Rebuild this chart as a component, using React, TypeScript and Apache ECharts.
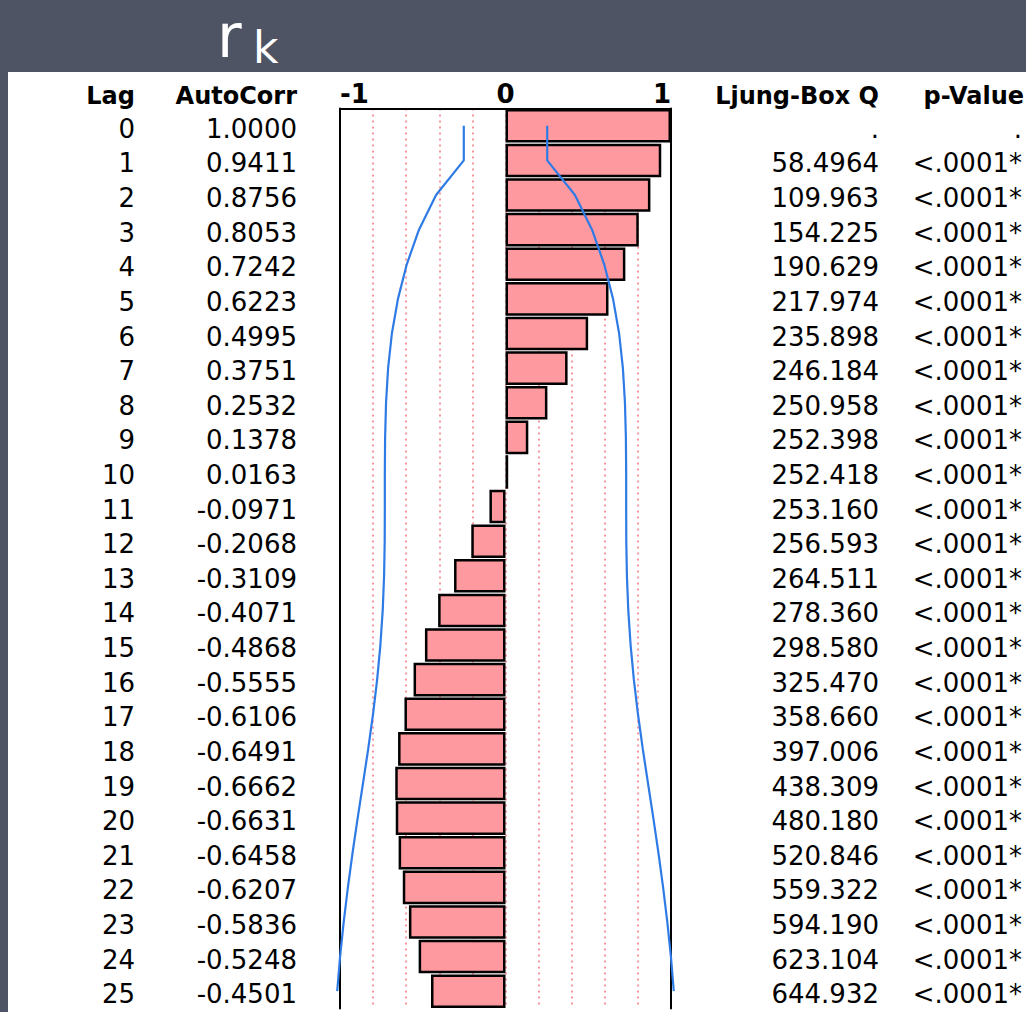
import React, { useEffect, useRef } from 'react';
import * as echarts from 'echarts';

const lags = [0, 1, 2, 3, 4, 5, 6, 7, 8, 9, 10, 11, 12, 13, 14, 15, 16, 17, 18, 19, 20, 21, 22, 23, 24, 25];
const autoCorr = [1.0, 0.9411, 0.8756, 0.8053, 0.7242, 0.6223, 0.4995, 0.3751, 0.2532, 0.1378, 0.0163, -0.0971, -0.2068, -0.3109, -0.4071, -0.4868, -0.5555, -0.6106, -0.6491, -0.6662, -0.6631, -0.6458, -0.6207, -0.5836, -0.5248, -0.4501];
const ljungBoxQ = ['.', '58.4964', '109.963', '154.225', '190.629', '217.974', '235.898', '246.184', '250.958', '252.398', '252.418', '253.160', '256.593', '264.511', '278.360', '298.580', '325.470', '358.660', '397.006', '438.309', '480.180', '520.846', '559.322', '594.190', '623.104', '644.932'];
const pValues = ['.', '<.0001*', '<.0001*', '<.0001*', '<.0001*', '<.0001*', '<.0001*', '<.0001*', '<.0001*', '<.0001*', '<.0001*', '<.0001*', '<.0001*', '<.0001*', '<.0001*', '<.0001*', '<.0001*', '<.0001*', '<.0001*', '<.0001*', '<.0001*', '<.0001*', '<.0001*', '<.0001*', '<.0001*', '<.0001*'];
// 2-standard-error limits
const confLimit = [0.252, 0.252, 0.4195, 0.5228, 0.5964, 0.6498, 0.6866, 0.7093, 0.7218, 0.7274, 0.7291, 0.7291, 0.7299, 0.7336, 0.7419, 0.756, 0.7756, 0.8005, 0.8295, 0.8612, 0.8933, 0.924, 0.9523, 0.9776, 0.9995, 1.0168];
const headers = ['Lag', 'AutoCorr', 'Ljung-Box Q', 'p-Value'];
const axisTicks = [-1, 0, 1];

export default function App() {
  const ref = useRef<HTMLDivElement>(null);
  useEffect(() => {
    const chart = echarts.init(ref.current as HTMLDivElement, null, { renderer: 'svg' });
    const font = 'DejaVu Sans';
    const cats = lags.map(String);
    const rowLabel = (extra: any) => ({
      fontFamily: font,
      fontSize: 26,
      color: '#000',
      interval: 0,
      verticalAlign: 'top',
      lineHeight: 6,
      ...extra,
    });
    const headerStyle = { fontFamily: font, fontSize: 24, fontWeight: 'bold', fill: '#000', verticalAlign: 'middle', align: 'right' };
    const headerX = [135, 297, 879, 1024];
    chart.setOption({
      animation: false,
      backgroundColor: '#4e5464',
      graphic: [
        { type: 'rect', z: -100, shape: { x: 8, y: 72, width: 1030, height: 960 }, style: { fill: '#ffffff' } },
        { type: 'text', x: 217, y: 36, style: { text: 'r', fontFamily: font, fontSize: 60, lineHeight: 44, fill: '#ffffff', verticalAlign: 'middle' } },
        { type: 'text', x: 253, y: 47, style: { text: 'k', fontFamily: font, fontSize: 44, lineHeight: 40, fill: '#ffffff', verticalAlign: 'middle' } },
        ...headers.map((h, i) => ({ type: 'text', x: headerX[i], y: 96, style: { ...headerStyle, text: h } })),
      ],
      grid: { left: 340, top: 108.5, width: 331, height: 900 },
      xAxis: {
        type: 'value',
        position: 'top',
        min: -1,
        max: 1,
        interval: 0.2,
        axisLine: { show: true, onZero: false, lineStyle: { color: '#000', width: 2 } },
        axisTick: { show: false },
        splitLine: { show: true, showMinLine: false, showMaxLine: false, lineStyle: { color: '#f6979f', width: 2, type: [2, 4] } },
        axisLabel: {
          fontFamily: font,
          fontSize: 26,
          fontWeight: 'bold',
          color: '#000',
          margin: 2,
          alignMinLabel: 'left',
          alignMaxLabel: 'right',
          formatter: (v: number) => {
            const t = axisTicks.find((a) => Math.abs(a - v) < 1e-6);
            return t === undefined ? '' : String(t);
          },
        },
      },
      yAxis: [
        {
          type: 'category', data: cats, inverse: true, position: 'left',
          axisLine: { show: true, onZero: false, lineStyle: { color: '#000', width: 2 } },
          axisTick: { show: false }, splitLine: { show: false },
          axisLabel: rowLabel({ margin: 205 }),
        },
        {
          type: 'category', data: cats, inverse: true, position: 'left',
          axisLine: { show: false, onZero: false }, axisTick: { show: false }, splitLine: { show: false },
          axisLabel: rowLabel({ margin: 43, formatter: (_: string, i: number) => autoCorr[i].toFixed(4) }),
        },
        {
          type: 'category', data: cats, inverse: true, position: 'right',
          axisLine: { show: true, onZero: false, lineStyle: { color: '#000', width: 2 } },
          axisTick: { show: false }, splitLine: { show: false },
          axisLabel: rowLabel({ margin: 208, align: 'right', formatter: (_: string, i: number) => ljungBoxQ[i] }),
        },
        {
          type: 'category', data: cats, inverse: true, position: 'right',
          axisLine: { show: false, onZero: false }, axisTick: { show: false }, splitLine: { show: false },
          axisLabel: rowLabel({ margin: 351, align: 'right', formatter: (_: string, i: number) => pValues[i] }),
        },
      ],
      series: [
        {
          type: 'bar',
          yAxisIndex: 0,
          data: autoCorr,
          barCategoryGap: '3%',
          itemStyle: { color: '#ff99a0', borderColor: '#000', borderWidth: 2.5 },
        },
        {
          type: 'line',
          yAxisIndex: 0,
          clip: false,
          symbol: 'none',
          data: confLimit.map((c, i) => [c, cats[i]]),
          lineStyle: { color: '#2f7be6', width: 2.2 },
        },
        {
          type: 'line',
          yAxisIndex: 0,
          clip: false,
          symbol: 'none',
          data: confLimit.map((c, i) => [-c, cats[i]]),
          lineStyle: { color: '#2f7be6', width: 2.2 },
        },
      ],
    });
    return () => chart.dispose();
  }, []);
  return <div ref={ref} style={{ position: 'fixed', left: 0, top: 0, width: 1026, height: 1012 }} />;
}
